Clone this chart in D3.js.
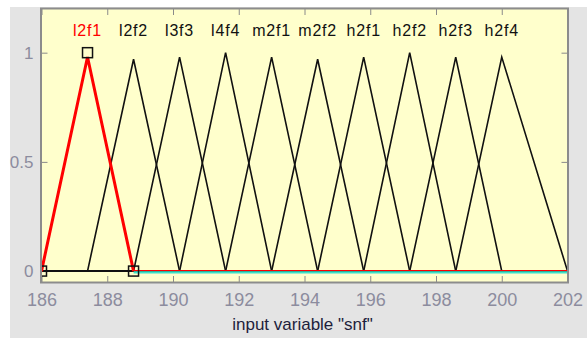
<!DOCTYPE html>
<html>
<head>
<meta charset="utf-8">
<script src="https://cdn.jsdelivr.net/npm/d3@7"></script>
<style>
  html, body { margin: 0; padding: 0; background: #ffffff; }
  svg { display: block; }
</style>
</head>
<body>
<svg id="chart" width="587" height="338"></svg>
<script>
// Membership functions of input variable "snf" (triangular: [a, b, c])
const mfNames = ["l2f1", "l2f2", "l3f3", "l4f4", "m2f1", "m2f2", "h2f1", "h2f2", "h2f3", "h2f4"];
const mfParams = [
  [186.0, 187.4, 188.8],
  [187.4, 188.8, 190.2],
  [188.8, 190.2, 191.6],
  [190.2, 191.6, 193.0],
  [191.6, 193.0, 194.4],
  [193.0, 194.4, 195.8],
  [194.4, 195.8, 197.2],
  [195.8, 197.2, 198.6],
  [197.2, 198.6, 200.0],
  [198.6, 200.0, 202.0]
];
// Height reached by each plotted curve at its apex
const peakHeights = [0.98, 0.97, 0.98, 1.0, 0.98, 0.97, 0.98, 1.0, 0.98, 0.98];
const selectedIndex = 0;

const xDomain = [186, 202];
const yDomain = [-0.05, 1.2];
const xTicks = [186, 188, 190, 192, 194, 196, 198, 200, 202];
const yTicks = [0, 0.5, 1];
const yTickLabels = ["0", "0.5", "1"];
const xLabel = 'input variable "snf"';

const svg = d3.select("#chart");
const W = 587, H = 338;
const plot = { left: 41.5, right: 567.5, top: 9, bottom: 282 };

// Panel background
svg.append("rect").attr("x", 0).attr("y", 0).attr("width", W).attr("height", H).attr("fill", "#ffffff");
svg.append("rect").attr("x", 10).attr("y", 7).attr("width", W - 10).attr("height", H - 7).attr("fill", "#e4e4e4");

const x = d3.scaleLinear().domain(xDomain).range([plot.left, plot.right]);
const y = d3.scaleLinear().domain(yDomain).range([plot.bottom, plot.top]);

// Axes area
svg.append("rect")
  .attr("x", plot.left).attr("y", plot.top)
  .attr("width", plot.right - plot.left).attr("height", plot.bottom - plot.top)
  .attr("fill", "#ffffcc");

svg.append("defs").append("clipPath").attr("id", "plotClip")
  .append("rect")
  .attr("x", plot.left).attr("y", plot.top)
  .attr("width", plot.right - plot.left).attr("height", plot.bottom - plot.top);

const tickColor = "#8a8a8a";
const labelColor = "#8c8c9e";

// Inward tick marks on all four sides
const axBottom = d3.axisBottom(x).tickValues(xTicks).tickSize(-6).tickFormat(d => d);
const axTop = d3.axisTop(x).tickValues(xTicks).tickSize(-6).tickFormat("");
const axLeft = d3.axisLeft(y).tickValues(yTicks).tickSize(-6).tickFormat((d, i) => yTickLabels[i]);
const axRight = d3.axisRight(y).tickValues(yTicks).tickSize(-6).tickFormat("");

function styleAxis(g, fontSize) {
  g.select(".domain").remove();
  g.selectAll(".tick line").attr("stroke", tickColor).attr("stroke-width", 1);
  g.selectAll(".tick text")
    .attr("fill", labelColor)
    .style("font-family", "'Liberation Sans', Arial, sans-serif")
    .style("font-size", fontSize + "px");
}

const gB = svg.append("g").attr("transform", `translate(0,${plot.bottom})`).call(axBottom);
styleAxis(gB, 18);
gB.selectAll(".tick text").attr("y", 11).attr("dy", "0.71em");

svg.append("g").attr("transform", `translate(0,${plot.top})`).call(axTop).call(g => styleAxis(g, 18));

const gL = svg.append("g").attr("transform", `translate(${plot.left},0)`).call(axLeft);
styleAxis(gL, 17);
gL.selectAll(".tick text").attr("x", -8).attr("dy", "0.34em");

svg.append("g").attr("transform", `translate(${plot.right},0)`).call(axRight).call(g => styleAxis(g, 18));

// Curves
const curves = svg.append("g").attr("clip-path", "url(#plotClip)");
const line = d3.line().x(d => x(d[0])).y(d => y(d[1]));

function mfPoints(p, h) {
  return [[xDomain[0], 0], [p[0], 0], [p[1], h], [p[2], 0], [xDomain[1], 0]];
}

mfParams.forEach((p, i) => {
  if (i === selectedIndex) return;
  curves.append("path")
    .attr("d", line(mfPoints(p, peakHeights[i])))
    .attr("fill", "none")
    .attr("stroke", "#111111")
    .attr("stroke-width", 1.6)
    .attr("stroke-linejoin", "miter");
});

// Selected membership function
const sel = mfParams[selectedIndex];
const selH = peakHeights[selectedIndex];

// zero tail of the selected function
curves.append("path")
  .attr("d", line([[sel[2], 0], [xDomain[1], 0]]))
  .attr("transform", "translate(0,1.2)")
  .attr("stroke", "#3fe0c8").attr("stroke-width", 2.2).attr("fill", "none");
curves.append("path")
  .attr("d", line([[sel[2], 0], [xDomain[1], 0]]))
  .attr("transform", "translate(0,-0.6)")
  .attr("stroke", "#ff0000").attr("stroke-width", 1.2).attr("fill", "none");

curves.append("path")
  .attr("d", line([[sel[0], 0], [sel[1], selH], [sel[2], 0]]))
  .attr("fill", "none")
  .attr("stroke", "#ff0000")
  .attr("stroke-width", 3)
  .attr("stroke-linejoin", "miter");

// Vertex handles
curves.selectAll("rect.handle")
  .data([[sel[0], 0], [sel[1], 1], [sel[2], 0]])
  .enter().append("rect")
  .attr("class", "handle")
  .attr("x", d => x(d[0]) - 5)
  .attr("y", d => y(d[1]) - 5)
  .attr("width", 10).attr("height", 10)
  .attr("fill", "none")
  .attr("stroke", "#111111")
  .attr("stroke-width", 1.5);

// Frame
svg.append("rect")
  .attr("x", plot.left - 0.5).attr("y", plot.top - 0.5)
  .attr("width", plot.right - plot.left + 1).attr("height", plot.bottom - plot.top + 1)
  .attr("fill", "none")
  .attr("stroke", "#8c8c8c")
  .attr("stroke-width", 2);

// MF names
svg.append("g").selectAll("text")
  .data(mfNames)
  .enter().append("text")
  .attr("x", (d, i) => x(mfParams[i][1]))
  .attr("y", 36)
  .attr("text-anchor", "middle")
  .attr("fill", (d, i) => i === selectedIndex ? "#ff0000" : "#111111")
  .style("font-family", "'Liberation Sans', Arial, sans-serif")
  .style("font-size", "16px")
  .style("letter-spacing", "0.8px")
  .text(d => d);

// Axis title
svg.append("text")
  .attr("x", (plot.left + plot.right) / 2 - 2)
  .attr("y", 330)
  .attr("text-anchor", "middle")
  .attr("fill", "#1e1e3c")
  .style("font-family", "'Liberation Sans', Arial, sans-serif")
  .style("font-size", "17px")
  .text(xLabel);
</script>
</body>
</html>
